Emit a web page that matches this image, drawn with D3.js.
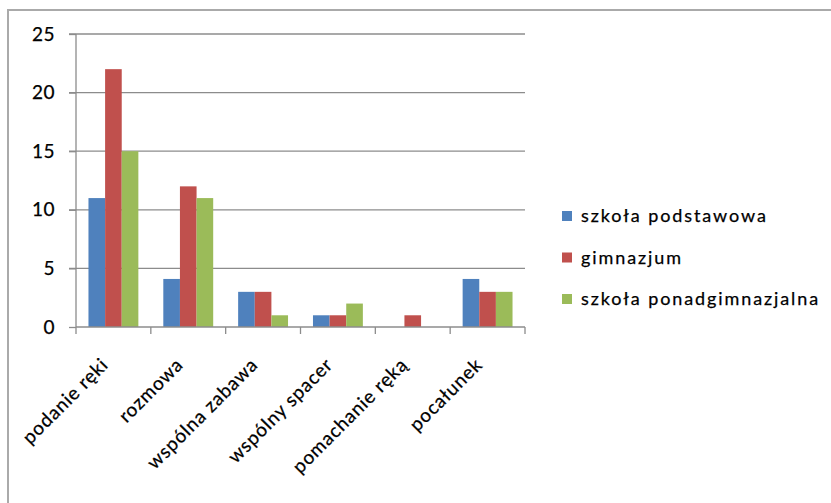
<!DOCTYPE html>
<html lang="pl">
<head>
<meta charset="UTF-8">
<title>Chart</title>
<style>
    body { margin: 0; background: #fff; }
    text { font-family: Lato, "Open Sans", sans-serif; fill: #000; stroke: #000; stroke-width: 0.25px; }
</style>
</head>
<body>
<svg id="chart"></svg>
<script src="https://d3js.org/d3.v7.min.js"></script>
<script>
    // Data
    var categories = ["podanie ręki", "rozmowa", "wspólna zabawa", "wspólny spacer", "pomachanie ręką", "pocałunek"];
    var seriesNames = ["szkoła podstawowa", "gimnazjum", "szkoła ponadgimnazjalna"];
    var podstawowa = [11, 4.1, 3, 1, 0, 4.1];
    var gimnazjum = [22, 12, 3, 1, 1, 3];
    var ponadgimn = [15, 11, 1, 2, 0, 3];
    var yTicks = [0, 5, 10, 15, 20, 25];
    var colors = ["#4f81bd", "#c0504d", "#9bbb59"];

    var width = 831, height = 503;
    var plotLeft = 76, plotRight = 525, plotTop = 34, plotBottom = 327;

    var svg = d3.select("#chart")
        .attr("width", width)
        .attr("height", height);

    // chart frame (only left and top edges visible)
    svg.append("path")
        .attr("d", "M8,503V10H831")
        .attr("fill", "none")
        .attr("stroke", "#aaa")
        .attr("stroke-width", 2);

    var x = d3.scaleBand().domain(categories).range([plotLeft, plotRight]);
    var x1 = d3.scaleBand().domain(seriesNames).range([0, x.bandwidth()]).paddingOuter(0.75);
    var y = d3.scaleLinear().domain([0, 25]).range([plotBottom, plotTop]);

    // gridlines
    svg.append("g").selectAll("line")
        .data(yTicks.filter(d => d > 0))
        .enter().append("line")
        .attr("x1", plotLeft - 7).attr("x2", plotRight)
        .attr("y1", d => y(d)).attr("y2", d => y(d))
        .attr("stroke", "#8c8c8c").attr("stroke-width", 1.3);

    // bars
    var rows = categories.map((c, i) => ({ cat: c, vals: [podstawowa[i], gimnazjum[i], ponadgimn[i]] }));
    svg.append("g").selectAll("g")
        .data(rows)
        .enter().append("g")
        .attr("transform", d => "translate(" + x(d.cat) + ",0)")
        .selectAll("rect")
        .data(d => d.vals.map((v, j) => ({ v: v, s: seriesNames[j], c: colors[j] })))
        .enter().append("rect")
        .attr("x", d => x1(d.s))
        .attr("width", x1.bandwidth())
        .attr("y", d => y(d.v))
        .attr("height", d => y(0) - y(d.v))
        .attr("fill", d => d.c);

    // y axis
    var yAxis = svg.append("g")
        .attr("transform", "translate(" + plotLeft + ",0)")
        .call(d3.axisLeft(y).tickValues(yTicks).tickSize(7).tickPadding(14));
    yAxis.select(".domain").attr("stroke", "#8c8c8c").attr("stroke-width", 1.3).attr("d", "M0," + plotTop + "V" + plotBottom);
    yAxis.selectAll(".tick line").attr("stroke", "#8c8c8c").attr("stroke-width", 1.3);
    yAxis.selectAll("text").style("font-size", "19px").style("letter-spacing", "0.5px").attr("fill", "#000");

    // x axis
    var xAxis = svg.append("g")
        .attr("transform", "translate(0," + plotBottom + ")")
        .call(d3.axisBottom(x).tickSize(0));
    xAxis.select(".domain").attr("stroke", "#8c8c8c").attr("stroke-width", 1.3).attr("d", "M" + plotLeft + ",0H" + plotRight);
    var bounds = x.domain().map(d => x(d)).concat([plotRight]);
    xAxis.selectAll(".sep").data(bounds).enter().append("line")
        .attr("x1", d => d).attr("x2", d => d)
        .attr("y1", 0).attr("y2", 7)
        .attr("stroke", "#8c8c8c").attr("stroke-width", 1.3);
    xAxis.selectAll(".tick text")
        .style("font-size", "19px")
        .style("letter-spacing", "0.8px")
        .attr("fill", "#000")
        .attr("text-anchor", "end")
        .attr("y", 0)
        .attr("dy", 0)
        .attr("transform", "translate(-4,39) rotate(-45)");

    // legend
    var legend = svg.append("g").selectAll("g")
        .data(seriesNames)
        .enter().append("g")
        .attr("transform", (d, i) => "translate(562," + (216 + i * 41.5) + ")");
    legend.append("rect")
        .attr("x", 0).attr("y", -5).attr("width", 10).attr("height", 10)
        .attr("fill", (d, i) => colors[i]);
    legend.append("text")
        .attr("x", 19).attr("dy", "0.35em")
        .style("font-size", "18px")
        .style("letter-spacing", "1.9px")
        .text(d => d);
</script>
</body>
</html>
